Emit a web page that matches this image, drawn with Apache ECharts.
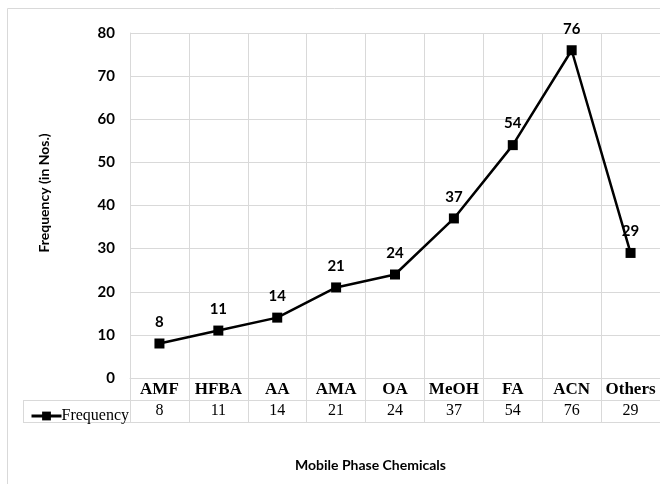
<!DOCTYPE html>
<html><head><meta charset="utf-8">
<script src="https://cdn.jsdelivr.net/npm/echarts@6/dist/echarts.min.js"></script>
<style>html,body{margin:0;padding:0;background:#fff}#c{width:660px;height:484px}</style>
</head><body><div id="c"></div>
<script>
var categories = ['AMF','HFBA','AA','AMA','OA','MeOH','FA','ACN','Others'];
var frequency = [8, 11, 14, 21, 24, 37, 54, 76, 29];
var yTicks = {min: 0, max: 80, interval: 10};
var seriesName = 'Frequency';
var xTitle = 'Mobile Phase Chemicals';
var yTitle = 'Frequency (in Nos.)';

var grey = '#d9d9d9';
var chart = echarts.init(document.getElementById('c'));
chart.setOption({
  animation: false,
  title: {text: xTitle, left: 290, top: 453, textStyle: {fontFamily: 'Lato', fontWeight: 'bold', fontSize: 14, color: '#000'}},
  legend: {
    left: 25, top: 403, itemWidth: 30, itemHeight: 11, itemGap: 0,
    lineStyle: {width: 3, color: '#000'},
    textStyle: {fontFamily: 'Liberation Serif', fontSize: 16, color: '#000', padding: [0,0,0,-5]},
    data: [seriesName]
  },
  grid: {left: 130, top: 33, width: 537, height: 345},
  xAxis: [{
    type: 'category', data: categories, boundaryGap: true,
    axisLine: {show: true, lineStyle: {color: grey, width: 1}},
    axisTick: {show: true, length: 44, lineStyle: {color: grey}},
    splitLine: {show: true, lineStyle: {color: grey}},
    axisLabel: {margin: 3, fontFamily: 'Liberation Serif', fontWeight: 'bold', fontSize: 17, color: '#000', interval: 0}
  }, {
    type: 'category', data: frequency.map(String), position: 'bottom', offset: 22,
    axisLine: {show: false}, axisTick: {show: false},
    axisLabel: {margin: 3, fontFamily: 'Liberation Serif', fontSize: 16, color: '#000', interval: 0}
  }],
  yAxis: {
    type: 'value', min: yTicks.min, max: yTicks.max, interval: yTicks.interval,
    axisLine: {show: true, lineStyle: {color: grey}},
    splitLine: {show: true, lineStyle: {color: grey}},
    axisLabel: {margin: 15, fontFamily: 'Lato', fontWeight: 'bold', fontSize: 15, color: '#000'}
  },
  graphic: [
    {type: 'rect', shape: {x: 7.5, y: 8.5, width: 700, height: 500}, style: {fill: 'none', stroke: grey, lineWidth: 1}},
    {type: 'line', shape: {x1: 23, y1: 400.5, x2: 667, y2: 400.5}, style: {stroke: grey, lineWidth: 1}},
    {type: 'line', shape: {x1: 23, y1: 422.5, x2: 667, y2: 422.5}, style: {stroke: grey, lineWidth: 1}},
    {type: 'line', shape: {x1: 23.5, y1: 400, x2: 23.5, y2: 423}, style: {stroke: grey, lineWidth: 1}},
    {type: 'text', x: 44, y: 193, rotation: Math.PI / 2,
     style: {text: yTitle, fontFamily: 'Lato', fontWeight: 'bold', fontSize: 14, fill: '#000', align: 'center', verticalAlign: 'middle'}}
  ],
  series: [{
    name: seriesName, type: 'line', data: frequency, xAxisIndex: 0,
    symbol: 'rect', symbolSize: 10,
    lineStyle: {color: '#000', width: 2.5},
    itemStyle: {color: '#000'},
    label: {show: true, position: 'top', distance: 9, fontFamily: 'Lato', fontWeight: 'bold', fontSize: 15, color: '#000'}
  }]
});
</script></body></html>
